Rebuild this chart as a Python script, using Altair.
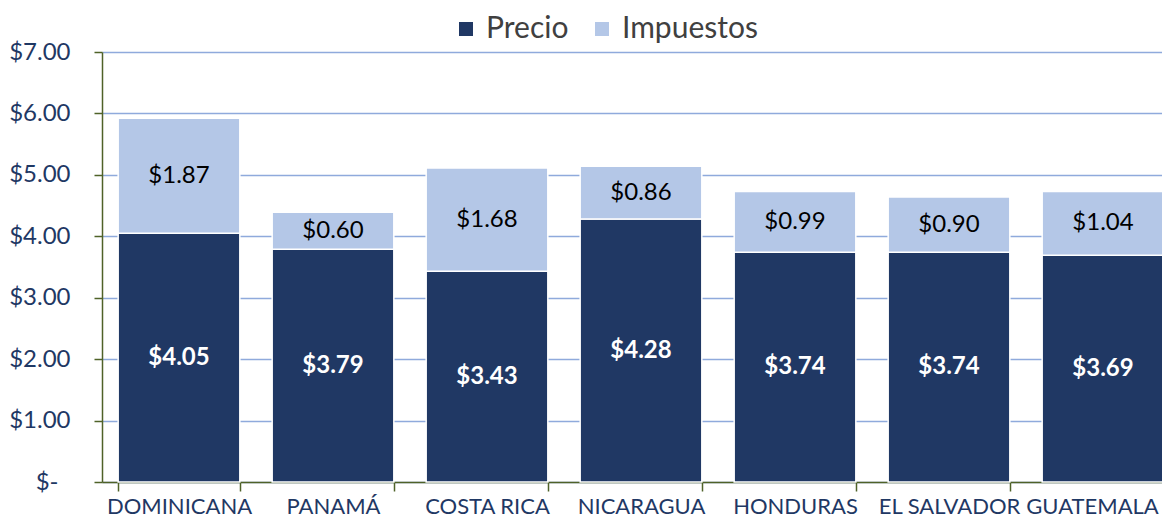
import altair as alt
import pandas as pd

countries = ["DOMINICANA", "PANAMÁ", "COSTA RICA", "NICARAGUA", "HONDURAS", "EL SALVADOR", "GUATEMALA"]
precio = [4.05, 3.79, 3.43, 4.28, 3.74, 3.74, 3.69]
impuestos = [1.87, 0.60, 1.68, 0.86, 0.99, 0.90, 1.04]
series = ["Precio", "Impuestos"]
y_ticks = [0, 1, 2, 3, 4, 5, 6, 7]

rows = []
for i, c in enumerate(countries):
    rows.append({"pais": c, "serie": "Precio", "valor": precio[i], "orden": 0})
    rows.append({"pais": c, "serie": "Impuestos", "valor": impuestos[i], "orden": 1})
df = pd.DataFrame(rows)

FONT = "Lato"
NAVY = "#1F3864"
GREEN = "#4F6228"

x_enc = alt.X("pais:N", sort=countries, title=None,
              scale=alt.Scale(paddingInner=0.21, paddingOuter=0.105),
              axis=alt.Axis(labelAngle=0, labelFont=FONT, labelFontSize=22, labelColor=NAVY,
                            labelOffset=alt.ConditionalAxisNumber(condition={"test": "datum.value == 'GUATEMALA'", "value": -11}, value=0),
                            tickBand="extent", tickColor=GREEN, tickSize=9, tickWidth=1.5,
                            domainColor=GREEN, domainWidth=1.5, labelPadding=5, grid=False))

base = alt.Chart(df)

bars = base.mark_bar(stroke="white", strokeWidth=1.5).encode(
    x=x_enc,
    y=alt.Y("valor:Q", stack="zero", title=None,
            scale=alt.Scale(domain=[0, 7], nice=False),
            axis=alt.Axis(values=y_ticks, labelExpr="datum.value == 0 ? '$-' : '$' + format(datum.value, '.2f')",
                          labelFont=FONT, labelFontSize=24, labelColor=NAVY,
                          labelPadding=alt.ConditionalAxisNumber(condition={"test": "datum.value == 0", "value": 36}, value=24),
                          tickColor=GREEN, tickSize=8, tickWidth=1.5, domainColor=GREEN, domainWidth=1.5,
                          gridColor="#8FAADC", gridWidth=1.5)),
    color=alt.Color("serie:N", sort=series,
                    scale=alt.Scale(domain=series, range=["#203864", "#B4C7E7"]),
                    legend=alt.Legend(title=None, orient="none", direction="horizontal",
                                      legendX=349, legendY=-38, symbolType="square", symbolSize=196,
                                      symbolStrokeWidth=0, labelFont=FONT, labelFontSize=30,
                                      labelColor="#404040", columnPadding=18, labelOffset=5)),
    order=alt.Order("orden:Q"),
)

stacked = base.transform_stack(
    stack="valor", groupby=["pais"], as_=["v0", "v1"], sort=[alt.SortField("orden")]
).transform_calculate(mid="(datum.v0 + datum.v1) / 2")

lab_precio = stacked.transform_filter("datum.serie == 'Precio'").mark_text(
    font=FONT, fontSize=24, fontWeight="bold", color="white").encode(
    x=alt.X("pais:N", sort=countries),
    y=alt.Y("mid:Q"),
    text=alt.Text("valor:Q", format="$.2f"))

lab_imp = stacked.transform_filter("datum.serie == 'Impuestos'").mark_text(
    font=FONT, fontSize=24, color="black").encode(
    x=alt.X("pais:N", sort=countries),
    y=alt.Y("mid:Q"),
    text=alt.Text("valor:Q", format="$.2f"))

chart = alt.layer(bars, lab_precio, lab_imp).properties(
    width=1078, height=430,
    autosize=alt.AutoSizeParams(type="none"),
    padding={"left": 94, "top": 44, "right": -18, "bottom": 36},
).configure_view(stroke=None)

chart.save("out.html", embed_options={"renderer": "svg", "actions": False})
